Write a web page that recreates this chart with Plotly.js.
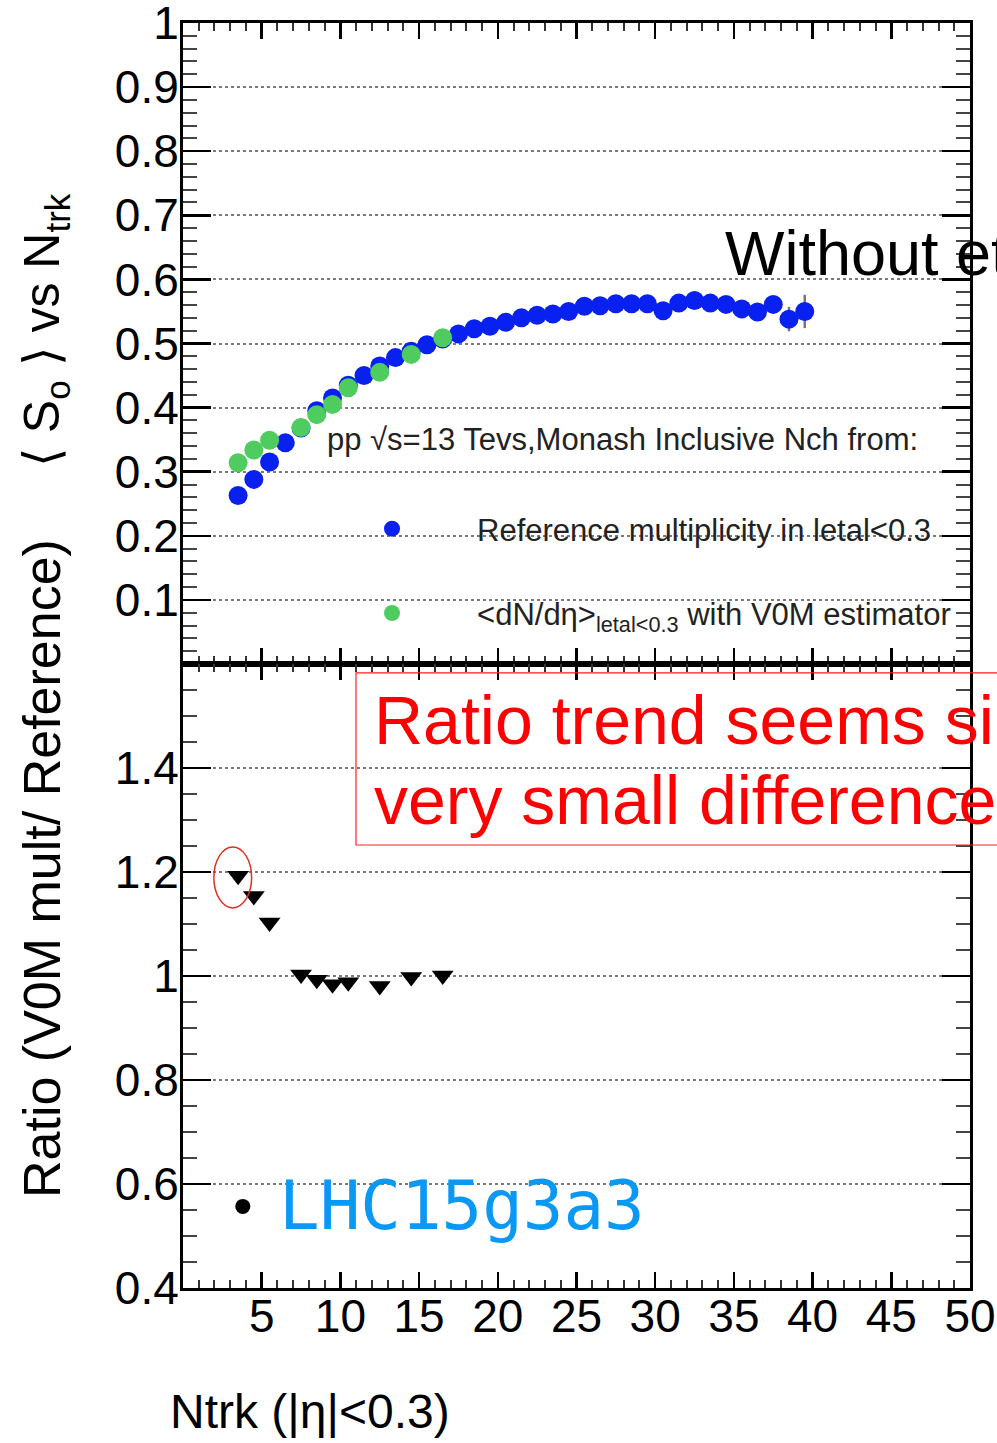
<!DOCTYPE html>
<html>
<head>
<meta charset="utf-8">
<script src="https://cdn.plot.ly/plotly-3.0.1.min.js"></script>
<style>
  html, body { margin: 0; padding: 0; background: #ffffff; }
  #chart { width: 997px; height: 1443px; }
</style>
</head>
<body>
<div id="chart"></div>
<script>
// ---------------- data ----------------
const ntrkRef = [3.5, 4.5, 5.5, 6.5, 7.5, 8.5, 9.5, 10.5, 11.5, 12.5, 13.5, 14.5, 15.5, 16.5, 17.5, 18.5, 19.5, 20.5, 21.5, 22.5, 23.5, 24.5, 25.5, 26.5, 27.5, 28.5, 29.5, 30.5, 31.5, 32.5, 33.5, 34.5, 35.5, 36.5, 37.5, 38.5, 39.5];
const s0Ref = [0.263, 0.288, 0.315, 0.345, 0.368, 0.395, 0.415, 0.435, 0.450, 0.465, 0.478, 0.488, 0.498, 0.507, 0.515, 0.523, 0.527, 0.533, 0.540, 0.544, 0.546, 0.550, 0.558, 0.559, 0.562, 0.562, 0.562, 0.551, 0.563, 0.567, 0.563, 0.561, 0.554, 0.549, 0.561, 0.538, 0.550];
const s0RefErr = [0, 0, 0, 0, 0, 0, 0, 0, 0, 0, 0, 0, 0, 0, 0, 0, 0, 0, 0, 0, 0, 0, 0, 0, 0, 0, 0, 0, 0, 0, 0, 0, 0, 0, 0, 0.019, 0.026];

const ntrkV0M = [3.5, 4.5, 5.5, 7.5, 8.5, 9.5, 10.5, 12.5, 14.5, 16.5];
const s0V0M = [0.314, 0.334, 0.349, 0.369, 0.389, 0.405, 0.431, 0.455, 0.483, 0.509];
const ratioV0M = [1.193, 1.154, 1.103, 1.003, 0.993, 0.984, 0.988, 0.981, 0.998, 1.001];

const xTickVals = [5, 10, 15, 20, 25, 30, 35, 40, 45, 50];
const xTickText = ["5", "10", "15", "20", "25", "30", "35", "40", "45", "50"];
const topTickVals = [0.1, 0.2, 0.3, 0.4, 0.5, 0.6, 0.7, 0.8, 0.9, 1];
const topTickText = ["0.1", "0.2", "0.3", "0.4", "0.5", "0.6", "0.7", "0.8", "0.9", "1"];
const botTickVals = [0.4, 0.6, 0.8, 1, 1.2, 1.4];
const botTickText = ["0.4", "0.6", "0.8", "1", "1.2", "1.4"];

const legendRef = "Reference multiplicity in letal&lt;0.3";
const legendV0M = "&lt;dN/dη&gt;<sub>letal&lt;0.3</sub> with V0M estimator";

// ---------------- styles ----------------
const FONT = "Liberation Sans, Arial, Helvetica, sans-serif";
const BLUE = "#0820f0";
const GREEN = "#4fcc5f";

const traces = [
  {
    type: "scatter", mode: "markers", name: legendRef,
    x: ntrkRef, y: s0Ref, xaxis: "x", yaxis: "y",
    legendgroup: "a",
    marker: { symbol: "circle", size: 19, color: BLUE },
    error_y: { type: "data", array: s0RefErr, visible: true, color: "#777", thickness: 2.5, width: 0 }
  },
  {
    type: "scatter", mode: "markers", name: legendV0M,
    x: ntrkV0M, y: s0V0M, xaxis: "x", yaxis: "y",
    legendgroup: "b",
    marker: { symbol: "circle", size: 19, color: GREEN }
  },
  {
    type: "scatter", mode: "markers", name: "ratio",
    x: ntrkV0M, y: ratioV0M, xaxis: "x2", yaxis: "y2",
    showlegend: false,
    marker: { symbol: "triangle-down", size: 19, color: "#000000" }
  }
];

const tickFont = { family: FONT, size: 46, color: "#000000" };

function xAxis(anchor, showLabels) {
  const ax = {
    anchor: anchor, domain: [0, 1], range: [0, 50],
    tickmode: "array", tickvals: xTickVals,
    showticklabels: showLabels, tickangle: 0, automargin: false,
    ticks: "inside", ticklen: 16, tickwidth: 2.5, tickcolor: "#000",
    minor: { tickmode: "linear", tick0: 0, dtick: 1, ticks: "inside", ticklen: 8, tickwidth: 2, tickcolor: "#333" },
    showline: true, linecolor: "#000", linewidth: 3, mirror: "allticks",
    showgrid: false, zeroline: false,
    tickfont: tickFont, ticklabelstandoff: -14, ticklabeloverflow: "allow"
  };
  if (showLabels) ax.ticktext = xTickText;
  return ax;
}

const DOMSPLIT = 624 / 1265;

const layout = {
  width: 997, height: 1443,
  margin: { l: 183, r: 27, t: 23, b: 155, autoexpand: false },
  paper_bgcolor: "#ffffff", plot_bgcolor: "rgba(0,0,0,0)",
  showlegend: true,
  font: { family: FONT, color: "#000" },
  xaxis: xAxis("y", false),
  xaxis2: xAxis("y2", true),
  yaxis: {
    anchor: "x", domain: [DOMSPLIT, 1], range: [0, 1], automargin: false,
    tickmode: "array", tickvals: topTickVals, ticktext: topTickText,
    ticks: "inside", ticklen: 28, tickwidth: 2.5, tickcolor: "#000",
    minor: { tickmode: "linear", tick0: 0, dtick: 0.02, ticks: "inside", ticklen: 14, tickwidth: 2, tickcolor: "#444" },
    showline: true, linecolor: "#000", linewidth: 3, mirror: "allticks",
    showgrid: true, gridcolor: "#7a7a7a", gridwidth: 2, griddash: "dot",
    zeroline: false, tickfont: tickFont, ticklabelstandoff: -8, ticklabeloverflow: "allow"
  },
  yaxis2: {
    anchor: "x2", domain: [0, DOMSPLIT], range: [0.4, 1.6], automargin: false,
    tickmode: "array", tickvals: botTickVals, ticktext: botTickText,
    ticks: "inside", ticklen: 28, tickwidth: 2.5, tickcolor: "#000",
    minor: { tickmode: "linear", tick0: 0.4, dtick: 0.05, ticks: "inside", ticklen: 14, tickwidth: 2, tickcolor: "#444" },
    showline: true, linecolor: "#000", linewidth: 3, mirror: "allticks",
    showgrid: true, gridcolor: "#7a7a7a", gridwidth: 2, griddash: "dot",
    zeroline: false, tickfont: tickFont, ticklabelstandoff: -8, ticklabeloverflow: "allow"
  },
  legend: {
    x: 0.1576, y: 0.6213, xanchor: "left", yanchor: "top",
    xref: "paper", yref: "paper",
    bgcolor: "rgba(0,0,0,0)", borderwidth: 0,
    font: { family: FONT, size: 31, color: "#222" },
    itemwidth: 160, tracegroupgap: 41, traceorder: "grouped"
  },
  shapes: [
    { type: "rect", xref: "paper", yref: "paper", x0: 0.2198, x1: 1.06, y0: 0.3502, y1: 0.4862,
      line: { color: "#ff2020", width: 1.2 }, fillcolor: "rgba(0,0,0,0)", layer: "above" },
    { type: "circle", xref: "x2", yref: "y2", x0: 1.96, x1: 4.36, y0: 1.131, y1: 1.248,
      line: { color: "#dd3322", width: 1.5 }, layer: "above" }
  ],
  annotations: [
    { xref: "paper", yref: "paper", x: -0.1753, y: 0.7573, textangle: -90, showarrow: false,
      xanchor: "center", yanchor: "middle",
      text: "⟨ S<sub>o</sub> ⟩ vs N<sub>trk</sub>", font: { family: FONT, size: 50, color: "#000" } },
    { xref: "paper", yref: "paper", x: -0.1792, y: 0.332, textangle: -90, showarrow: false,
      xanchor: "center", yanchor: "middle",
      text: "Ratio (V0M mult/ Reference)", font: { family: FONT, size: 52, color: "#000" } },
    { xref: "paper", yref: "paper", x: -0.0185, y: -0.098, showarrow: false,
      xanchor: "left", yanchor: "middle",
      text: "Ntrk (|η|&lt;0.3)", font: { family: FONT, size: 48, color: "#000" } },
    { xref: "paper", yref: "paper", x: 0.180, y: 0.6704, showarrow: false,
      xanchor: "left", yanchor: "middle",
      text: "pp √s=13 Tevs,Monash Inclusive Nch from:", font: { family: FONT, size: 31, color: "#222" } },
    { xref: "paper", yref: "paper", x: 0.686, y: 0.8182, showarrow: false,
      xanchor: "left", yanchor: "middle",
      text: "Without eta cut", font: { family: FONT, size: 63, color: "#000" } },
    { xref: "paper", yref: "paper", x: 0.2400, y: 0.4490, showarrow: false,
      xanchor: "left", yanchor: "middle",
      text: "Ratio trend seems similar,", font: { family: FONT, size: 68, color: "#ff0000" } },
    { xref: "paper", yref: "paper", x: 0.2400, y: 0.3858, showarrow: false,
      xanchor: "left", yanchor: "middle",
      text: "very small difference", font: { family: FONT, size: 68, color: "#ff0000" } },
    { xref: "paper", yref: "paper", x: 0.0762, y: 0.0656, showarrow: false,
      xanchor: "center", yanchor: "middle",
      text: "•", font: { family: FONT, size: 56, color: "#000" } },
    { xref: "paper", yref: "paper", x: 0.1190, y: 0.0656, showarrow: false,
      xanchor: "left", yanchor: "middle",
      text: "LHC15g3a3", font: { family: "DejaVu Sans Mono, monospace", size: 67.5, color: "#0a98f5" } }
  ]
};

Plotly.newPlot("chart", traces, layout, { displayModeBar: false, staticPlot: true });
</script>
</body>
</html>
